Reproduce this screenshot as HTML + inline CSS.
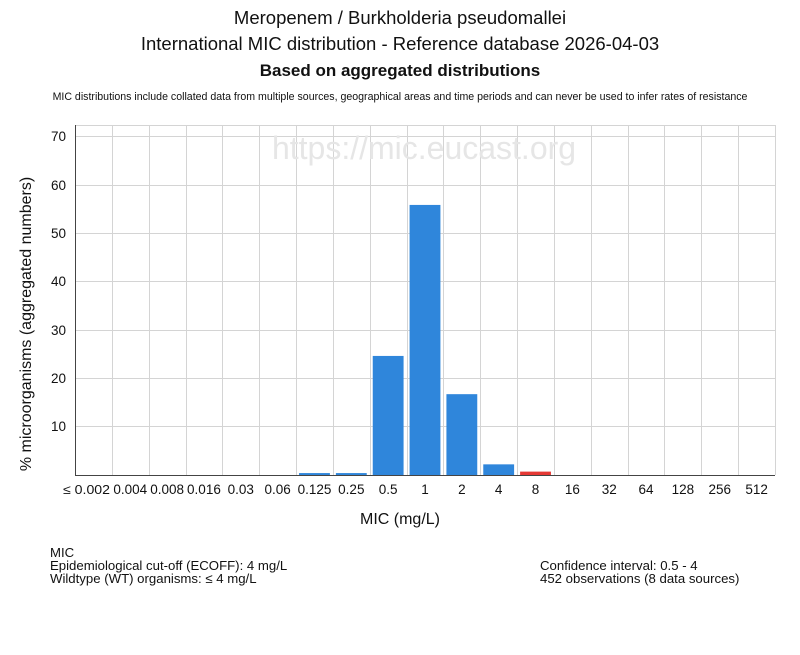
<!DOCTYPE html>
<html><head><meta charset="utf-8"><style>
body{margin:0;background:#fff;}
text{font-family:"Liberation Sans",sans-serif;fill:#111;}
</style></head><body>
<svg width="800" height="650" xmlns="http://www.w3.org/2000/svg">
<rect width="800" height="650" fill="#fff"/>
<text x="400" y="24" font-size="18.5" text-anchor="middle">Meropenem / Burkholderia pseudomallei</text>
<text x="400" y="50" font-size="18.5" text-anchor="middle">International MIC distribution - Reference database 2026-04-03</text>
<text x="400" y="76" font-size="17" font-weight="bold" text-anchor="middle">Based on aggregated distributions</text>
<text x="400" y="100" font-size="10.6" text-anchor="middle">MIC distributions include collated data from multiple sources, geographical areas and time periods and can never be used to infer rates of resistance</text>
<g stroke="#d4d4d4" stroke-width="1">
<line x1="75" y1="125.5" x2="775" y2="125.5"/>
<line x1="75" y1="136.5" x2="775" y2="136.5"/>
<line x1="75" y1="185.5" x2="775" y2="185.5"/>
<line x1="75" y1="233.5" x2="775" y2="233.5"/>
<line x1="75" y1="281.5" x2="775" y2="281.5"/>
<line x1="75" y1="330.5" x2="775" y2="330.5"/>
<line x1="75" y1="378.5" x2="775" y2="378.5"/>
<line x1="75" y1="426.5" x2="775" y2="426.5"/>
</g>
<g stroke="#d4d4d4" stroke-width="1" id="vg"></g>
<text x="424" y="159" font-size="32" text-anchor="middle" style="fill:#e6e6e6">https://mic.eucast.org</text>
<g id="bars"></g>
<line x1="75.5" y1="125" x2="75.5" y2="475" stroke="#444"/>
<line x1="75" y1="475.5" x2="775" y2="475.5" stroke="#444"/>
<g font-size="13.5" text-anchor="end">
<text x="66" y="141">70</text><text x="66" y="190">60</text><text x="66" y="238">50</text><text x="66" y="286">40</text><text x="66" y="335">30</text><text x="66" y="383">20</text><text x="66" y="431">10</text>
</g>
<g id="xl" font-size="13.5" text-anchor="middle"></g>
<text x="63" y="494" font-size="13" textLength="47" lengthAdjust="spacingAndGlyphs">≤ 0.002</text>
<text x="400" y="524" font-size="16" text-anchor="middle">MIC (mg/L)</text>
<text transform="translate(31,324) rotate(-90)" font-size="16" text-anchor="middle">% microorganisms (aggregated numbers)</text>
<g font-size="13.2">
<text x="50" y="557">MIC</text>
<text x="50" y="570">Epidemiological cut-off (ECOFF): 4 mg/L</text>
<text x="50" y="583">Wildtype (WT) organisms: ≤ 4 mg/L</text>
<text x="540" y="570">Confidence interval: 0.5 - 4</text>
<text x="540" y="583">452 observations (8 data sources)</text>
</g>
<script>
var labels=["","0.004","0.008","0.016","0.03","0.06","0.125","0.25","0.5","1","2","4","8","16","32","64","128","256","512"];
var vals=[0,0,0,0,0,0,0.4,0.4,24.6,55.8,16.7,2.2,0.7,0,0,0,0,0,0];
var w=700/19,ns="http://www.w3.org/2000/svg";
var vg=document.getElementById("vg"),b=document.getElementById("bars"),xl=document.getElementById("xl");
for(var i=0;i<19;i++){
 var x=75+i*w;
 var l=document.createElementNS(ns,"line");var lx=Math.round(x+w)+0.5;l.setAttribute("x1",lx);l.setAttribute("x2",lx);l.setAttribute("y1",125);l.setAttribute("y2",475);vg.appendChild(l);
 if(vals[i]>0){var r=document.createElementNS(ns,"rect");var h=vals[i]*4.84;r.setAttribute("x",x+3);r.setAttribute("width",w-6);r.setAttribute("y",475-h);r.setAttribute("height",h);r.setAttribute("fill",i==12?"#e53935":"#2f86db");b.appendChild(r);}
 if(i>0){var t=document.createElementNS(ns,"text");t.setAttribute("x",x+w/2);t.setAttribute("y",494);t.textContent=labels[i];xl.appendChild(t);}
}
</script>
</svg>
</body></html>
